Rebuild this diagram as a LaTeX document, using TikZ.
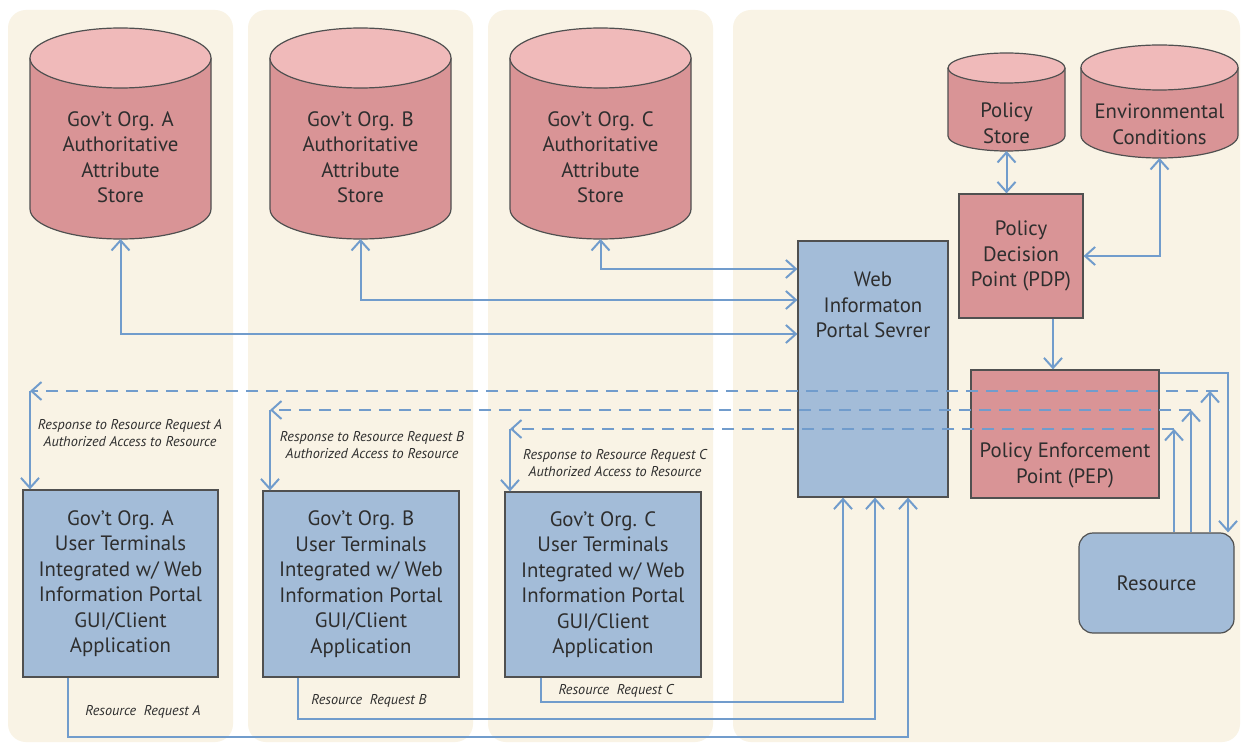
\documentclass[tikz,border=0pt]{standalone}
\usepackage{fontspec}
\setmainfont{PT Sans}
\usetikzlibrary{arrows.meta}

\definecolor{panelc}{HTML}{F9F3E5}
\definecolor{cylbody}{HTML}{D99496}
\definecolor{cyltop}{HTML}{F0BABA}
\definecolor{boxred}{HTML}{D99496}
\definecolor{boxblue}{HTML}{A3BCD8}
\definecolor{linkc}{HTML}{719CCC}
\definecolor{edgec}{HTML}{505050}
\definecolor{txtc}{HTML}{2E2E2E}

\newcommand\mainfnt{\fontsize{20.8}{25.5}\selectfont}
\newcommand\notefnt{\fontsize{14.2}{17}\selectfont\itshape}

\tikzset{
  panel/.style={fill=panelc, draw=none, rounded corners=18pt},
  edgeline/.style={draw=edgec, line width=1.2pt},
  storetext/.style={text=txtc, font=\mainfnt, align=center, inner sep=0pt},
  boxtext/.style={text=txtc, font=\mainfnt, align=center, inner sep=0pt},
  bluebox/.style={edgeline, fill=boxblue, text=txtc, font=\mainfnt, align=center, inner sep=0pt},
  redbox/.style={edgeline, fill=boxred, text=txtc, font=\mainfnt, align=center, inner sep=0pt},
  note/.style={text=txtc, font=\notefnt, align=center, inner sep=0pt},
  barb/.tip={Straight Barb[length=10pt,width=18pt]},
  link/.style={draw=linkc, line width=2pt, -barb},
  dlink/.style={draw=linkc, line width=2pt, barb-barb},
  resp/.style={draw=linkc, line width=2pt, dash pattern=on 12pt off 8pt, -barb},
}

% database cylinder: name, centre x, top centre y, bottom centre y, rx, ry, text centre y, text
\newcommand\dbstore[8]{%
  \fill[cylbody] (#2-#5,#3) -- (#2-#5,#4)
     arc[start angle=180,end angle=0,x radius=#5,y radius=#6] -- (#2+#5,#3) -- cycle;
  \draw[edgeline] (#2-#5,#3) -- (#2-#5,#4)
     arc[start angle=180,end angle=0,x radius=#5,y radius=#6] -- (#2+#5,#3);
  \draw[edgeline, fill=cyltop] (#2,#3) ellipse[x radius=#5, y radius=#6];
  \node[storetext] (#1) at (#2,#7) {#8};
  \coordinate (#1-b) at (#2,#4+#6);
}

\begin{document}
\begin{tikzpicture}[x=1pt,y=1pt,yscale=-1]
\useasboundingbox (0,0) rectangle (1248,746);
\fill[white] (0,0) rectangle (1248,746);

% column panels
\fill[panel] (8,10) rectangle (233,742);
\fill[panel] (248,10) rectangle (473,742);
\fill[panel] (488,10) rectangle (713,742);
\fill[panel] (733,10) rectangle (1240,742);

% attribute stores
\dbstore{sa}{120.5}{58}{209}{90.5}{30}{157}{Gov't Org. A\\Authoritative\\Attribute\\Store}
\dbstore{sb}{360.5}{58}{209}{90.5}{30}{157}{Gov't Org. B\\Authoritative\\Attribute\\Store}
\dbstore{sc}{600.5}{58}{209}{90.5}{30}{157}{Gov't Org. C\\Authoritative\\Attribute\\Store}
\dbstore{ps}{1006.5}{68}{136}{58.5}{15}{123.5}{Policy\\Store}
\dbstore{ec}{1159.5}{67.5}{135.5}{78.5}{22.5}{124.5}{Environmental\\Conditions}

% portal server and policy points
\node[bluebox, minimum width=150pt, minimum height=256pt] (web) at (873,369) {};
\node[boxtext] at (873,305) {Web\\Informaton\\Portal Sevrer};
\node[redbox, minimum width=124pt, minimum height=124pt] (pdp) at (1021,256) {Policy\\Decision\\Point (PDP)};
\node[redbox, minimum width=188pt, minimum height=128pt] (pep) at (1065,434) {};
\node[boxtext] at (1065,465.5) {Policy Enforcement\\Point (PEP)};
\node[bluebox, rounded corners=14pt, minimum width=155pt, minimum height=100pt] (res) at (1156.5,583) {Resource};

% user terminals
\node[bluebox, minimum width=195pt, minimum height=187pt] (ua) at (120.5,583.5)
  {Gov't Org. A\\User Terminals\\Integrated w/ Web\\Information Portal\\GUI/Client\\Application};
\node[bluebox, minimum width=196pt, minimum height=186pt] (ub) at (361,584)
  {Gov't Org. B\\User Terminals\\Integrated w/ Web\\Information Portal\\GUI/Client\\Application};
\node[bluebox, minimum width=196pt, minimum height=185pt] (uc) at (603,584.5)
  {Gov't Org. C\\User Terminals\\Integrated w/ Web\\Information Portal\\GUI/Client\\Application};

% attribute queries
\draw[dlink] (sa-b) |- (web.west |- 0,334);
\draw[dlink] (sb-b) |- (web.west |- 0,300);
\draw[dlink] (sc-b) |- (web.west |- 0,269);

% policy decision
\draw[dlink] (ps-b) -- (pdp.north -| ps-b);
\draw[dlink] (ec-b) |- (pdp.east);
\draw[link] (pdp.south -| 1053,0) -- (pep.north -| 1053,0);
\draw[link] (pep.east |- 0,373) -| (1228,0 |- res.north);

% responses from the resource
\coordinate (ra) at (1210,391);
\coordinate (rb) at (1191,410);
\coordinate (rc) at (1174,429);
\coordinate (ta) at (30,391);
\coordinate (tb) at (270,410);
\coordinate (tc) at (510,429);
\draw[link] (res.north -| ra) -- (ra);
\draw[link] (res.north -| rb) -- (rb);
\draw[link] (res.north -| rc) -- (rc);
\draw[resp] ([xshift=8pt]ra) -- (ta);
\draw[resp] (rb) -- (tb);
\draw[resp] (rc) -- (tc);
\draw[link] (ta) -- (ua.north -| ta);
\draw[link] (tb) -- (ub.north -| tb);
\draw[link] (tc) -- (uc.north -| tc);

\node[note] (na) at (130,433.5) {Response to Resource Request A\\Authorized Access to Resource};
\node[note] (nb) at (372,445.5) {Response to Resource Request B\\Authorized Access to Resource};
\node[note] (nc) at (615,463) {Response to Resource Request C\\Authorized Access to Resource};

% resource requests
\draw[link] (ua.south -| 68,0) -- (68,737) -| (web.south -| 908,0);
\draw[link] (ub.south -| 298,0) -- (298,719) -| (web.south -| 875,0);
\draw[link] (uc.south -| 541,0) -- (541,702) -| (web.south -| 843,0);

\node[note] (qa) at (143,712) {Resource\ \ Request A};
\node[note] (qb) at (369,701) {Resource\ \ Request B};
\node[note] (qc) at (616,691) {Resource\ \ Request C};
\end{tikzpicture}
\end{document}
